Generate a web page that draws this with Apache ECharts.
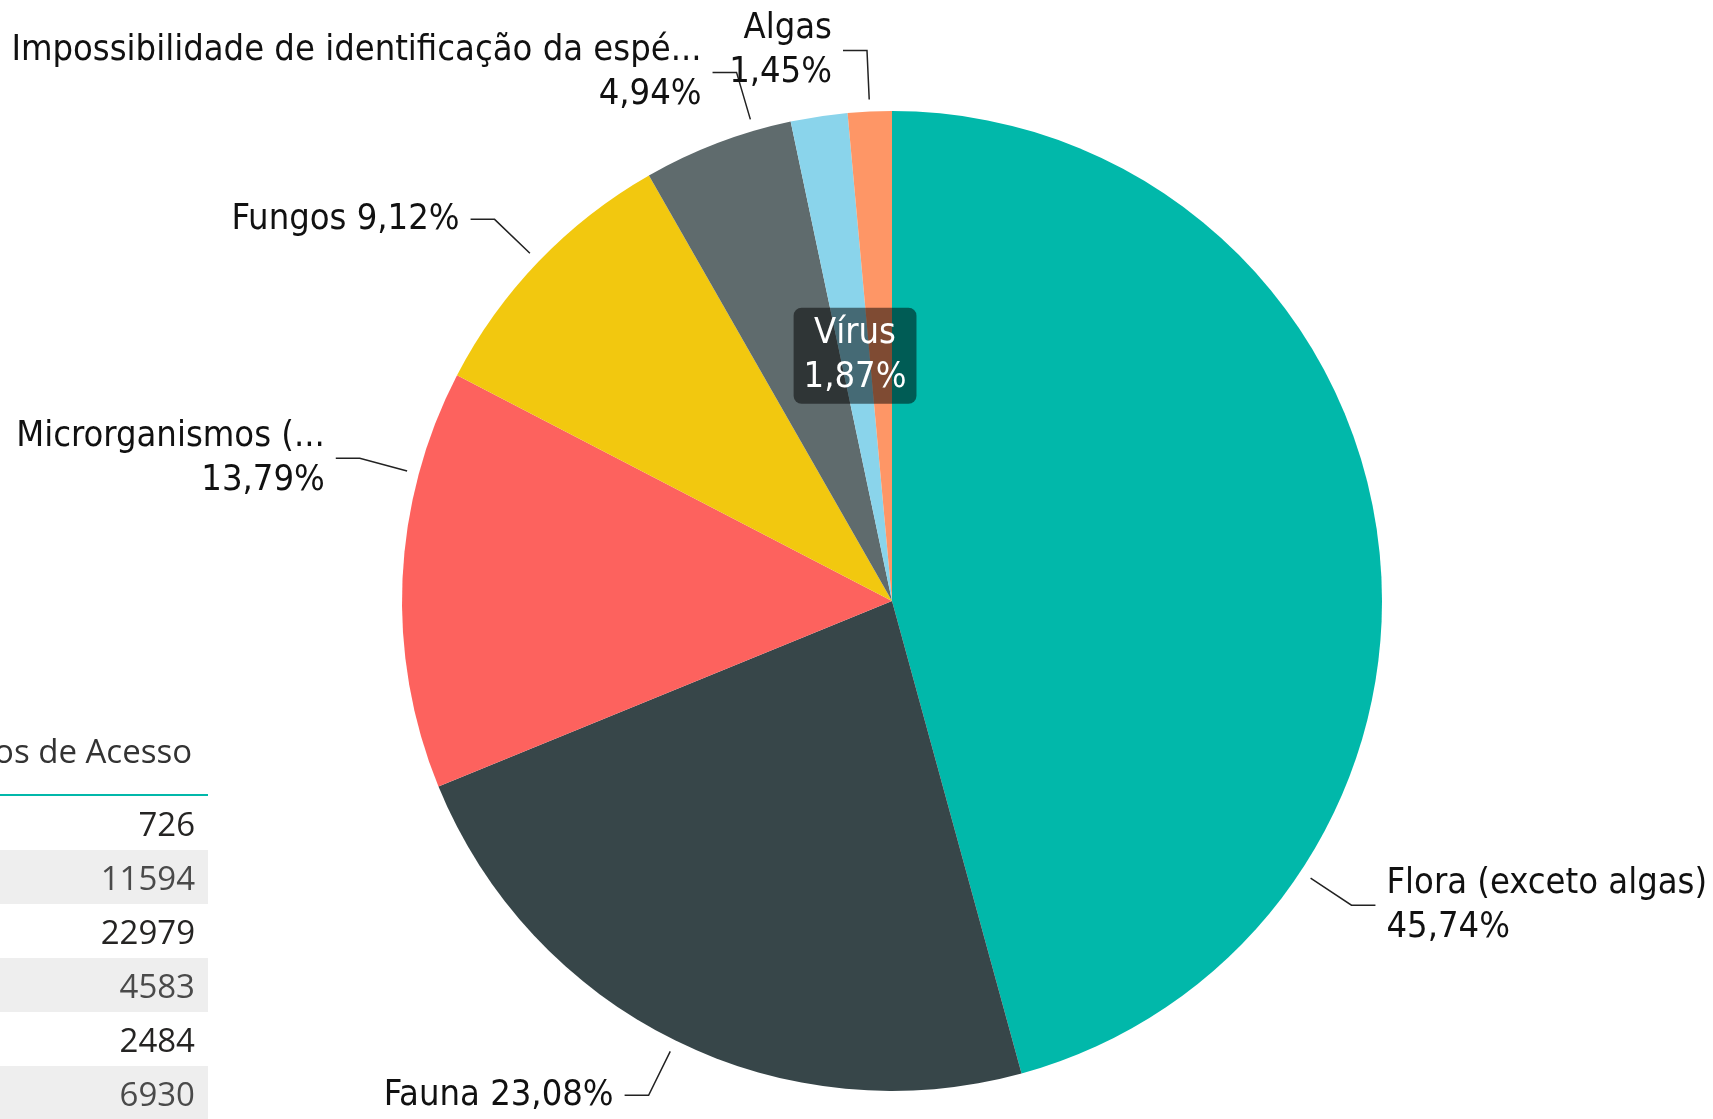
<!DOCTYPE html>
<html>
<head>
<meta charset="utf-8">
<title>Registros de Acesso por tipo de patrimônio</title>
<script src="https://cdn.jsdelivr.net/npm/echarts@6/dist/echarts.min.js"></script>
<style>
	html, body { margin: 0; padding: 0; background: #fff; overflow: hidden; }
	#grafico { position: absolute; left: 0; top: 0; width: 1713px; height: 1119px; }
	/* tabela cortada no canto esquerdo */
	#tabela { position: absolute; left: -300px; top: 718px; width: 508px;
		font-family: 'Open Sans', 'Noto Sans', sans-serif; font-size: 33px; }
	#tabela .cab { height: 64px; padding-bottom: 12px; border-bottom: 2px solid #01B8AA;
		display: flex; align-items: center; justify-content: flex-end; padding-right: 16px;
		color: #333; white-space: nowrap; }
	#tabela .linha { height: 54px; display: flex; align-items: center; justify-content: flex-end;
		padding-right: 13px; color: #252423; }
	#tabela .linha.par { background: #eeeeee; color: #4a4a4a; }
</style>
</head>
<body>
	<div id="grafico"></div>
	<div id="tabela"></div>
	<script>
		// dados (ordem das fatias, do maior para o menor)
		var categorias = ['Flora (exceto algas)', 'Fauna', 'Microrganismos (...', 'Fungos',
			'Impossibilidade de identificação da espé...', 'Vírus', 'Algas'];
		var valores = [22979, 11594, 6930, 4583, 2484, 940, 726];
		var tituloColuna = 'Número de Registros de Acesso';

		var cores = ['#01B8AA', '#374649', '#FD625E', '#F2C80F', '#5F6B6D', '#8AD4EB', '#FE9666'];
		// onde o rótulo sai dentro da fatia (0.5 = meio)
		var posicaoRotulo = [0.75, 0.5, 0.75, 0.5, 0.75, 0.5, 0.5];
		var rotuloUmaLinha = ['Fauna', 'Fungos'];
		var rotuloDentro = 'Vírus';

		var CX = 892, CY = 601, R = 490;
		var total = valores.reduce(function (a, b) { return a + b; }, 0);

		function pct(v) {
			return (v / total * 100).toFixed(2).replace('.', ',') + '%';
		}

		function angulo(i) {
			var antes = 0;
			for (var k = 0; k < i; k++) antes += valores[k];
			return (antes + valores[i] * posicaoRotulo[i]) / total * 2 * Math.PI;
		}

		var fonte = "'DejaVu Sans Condensed', 'Roboto', sans-serif";

		var dados = categorias.map(function (c, i) {
			var item = { name: c, value: valores[i], itemStyle: { color: cores[i] } };
			if (c === rotuloDentro) {
				item.label = {
					position: 'inside', color: '#fff',
					backgroundColor: 'rgba(0,0,0,0.5)', borderRadius: 8, padding: [4, 10]
				};
				item.labelLine = { show: false };
			}
			return item;
		});

		var chart = echarts.init(document.getElementById('grafico'));
		chart.setOption({
			animation: false,
			series: [{
				type: 'pie',
				center: [CX, CY],
				radius: R,
				startAngle: 90,
				clockwise: true,
				avoidLabelOverlap: false,
				silent: true,
				data: dados,
				itemStyle: { borderWidth: 0 },
				label: {
					show: true,
					fontFamily: fonte,
					fontSize: 36,
					lineHeight: 44,
					color: '#111',
					formatter: function (p) {
						var sep = rotuloUmaLinha.indexOf(p.name) >= 0 ? ' ' : '\n';
						return p.name + sep + pct(p.value);
					}
				},
				labelLine: { show: true, lineStyle: { color: '#222', width: 1.5 } },
				labelLayout: function (p) {
					var i = p.dataIndex;
					if (categorias[i] === rotuloDentro) return {};
					var a = angulo(i);
					var dx = Math.sin(a), dy = -Math.cos(a);
					var lado = dx < 0 ? -1 : 1;
					var sx = CX + dx * (R + 12), sy = CY + dy * (R + 12);
					var bx = CX + dx * (R + 61), by = CY + dy * (R + 61);
					var ex = bx + lado * 24;
					return {
						x: ex + lado * 11,
						y: by,
						align: lado < 0 ? 'right' : 'left',
						verticalAlign: 'middle',
						labelLinePoints: [[sx, sy], [bx, by], [ex, by]]
					};
				}
			}]
		});

		// tabela (ordem alfabética)
		var ordem = categorias.map(function (c, i) { return i; }).sort(function (a, b) {
			return categorias[a].localeCompare(categorias[b], 'pt');
		});
		var html = '<div class="cab">' + tituloColuna + '</div>';
		ordem.forEach(function (i, n) {
			html += '<div class="linha' + (n % 2 ? ' par' : '') + '">' + valores[i] + '</div>';
		});
		document.getElementById('tabela').innerHTML = html;
	</script>
</body>
</html>
